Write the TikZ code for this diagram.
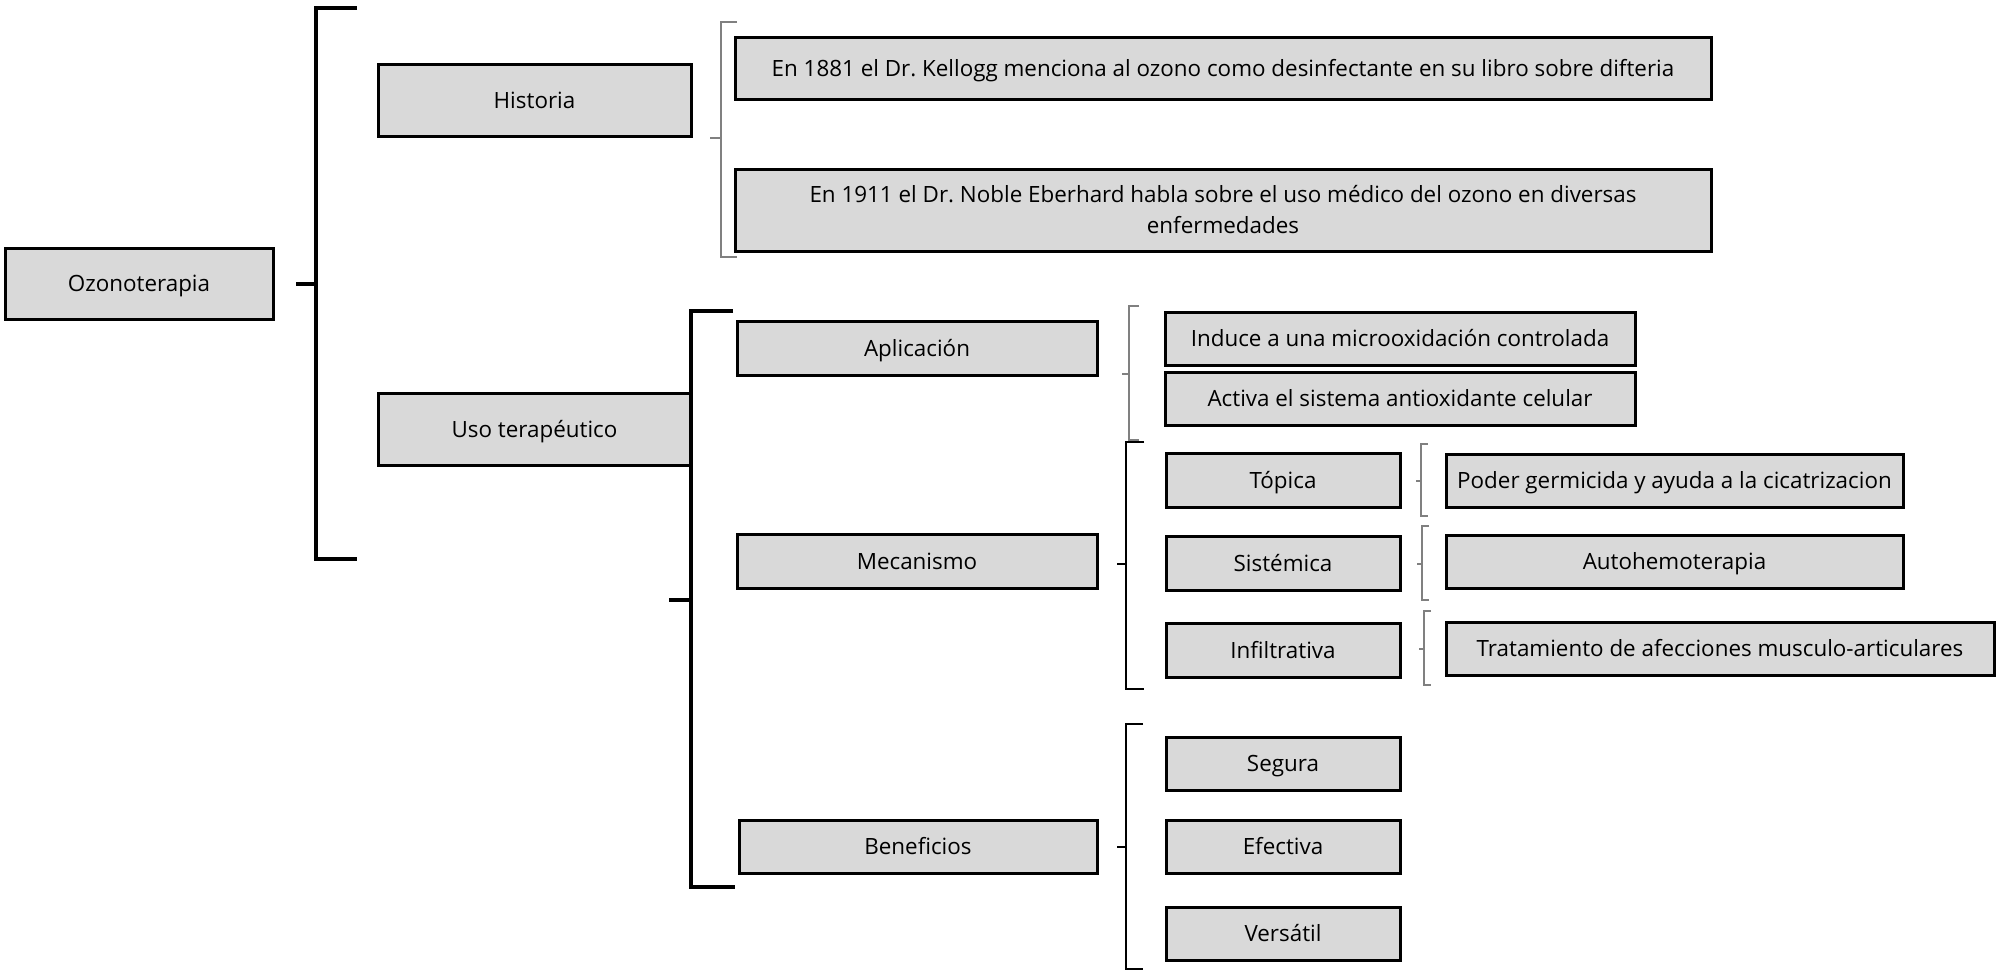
\documentclass[tikz,border=0pt]{standalone}
\usepackage{fontspec}
\setmainfont{Open Sans}
\frenchspacing
\definecolor{boxfill}{HTML}{D9D9D9}
\definecolor{thingray}{HTML}{808080}
\tikzset{
  box/.style={draw=black, line width=3pt, fill=boxfill, inner sep=0pt, align=center,
    font=\fontsize{22.4}{31}\selectfont, text height=18pt, text depth=2pt},
  bigbr/.style={draw=black, line width=3.5pt},
  midbr/.style={draw=black, line width=1.6pt},
  thinbr/.style={draw=thingray, line width=1.2pt},
}
\newcommand{\bx}[6]{\node[box, minimum width=#4-#2, minimum height=#5-#3] (#1) at ({(#2+#4)/2},{(#3+#5)/2}) {#6};}
\begin{document}
\begin{tikzpicture}[x=1pt,y=-1pt]
\useasboundingbox (0,0) rectangle (2007,972);
% boxes
\bx{oz}{5}{248}{273}{319}{Ozonoterapia}
\bx{hist}{378}{64}{691}{136}{Historia}
\bx{uso}{378}{393}{691}{465}{Uso terapéutico}
\bx{h1}{735}{37}{1711}{99}{En 1881 el Dr. Kellogg menciona al ozono como desinfectante en su libro sobre difteria}
\node[box, minimum width=976, minimum height=82, text height=, text depth=] (h2) at (1223,210) {En 1911 el Dr. Noble Eberhard habla sobre el uso médico del ozono en diversas\\enfermedades};
\bx{apl}{737}{321}{1097}{375}{Aplicación}
\bx{mec}{737}{534}{1097}{588}{Mecanismo}
\bx{ben}{739}{820}{1097}{873}{Beneficios}
\bx{ind}{1165}{312}{1635}{365}{Induce a una microoxidación controlada}
\bx{act}{1165}{372}{1635}{425}{Activa el sistema antioxidante celular}
\bx{top}{1166}{453}{1400}{507}{Tópica}
\bx{sis}{1166}{536}{1400}{590}{Sistémica}
\bx{inf}{1166}{623}{1400}{677}{Infiltrativa}
\bx{pod}{1446}{454}{1903}{507}{Poder germicida y ayuda a la cicatrizacion}
\bx{aut}{1446}{535}{1903}{588}{Autohemoterapia}
\bx{tra}{1446}{622}{1994}{675}{Tratamiento de afecciones musculo-articulares}
\bx{seg}{1166}{737}{1400}{790}{Segura}
\bx{efe}{1166}{820}{1400}{873}{Efectiva}
\bx{ver}{1166}{907}{1400}{960}{Versátil}
% brackets
\draw[bigbr] (357,8) -- (316,8) -- (316,559) -- (357,559);
\draw[bigbr] (296,284) -- (316,284);
\draw[thinbr] (737,22) -- (721,22) -- (721,257) -- (737,257);
\draw[thinbr] (710,138) -- (721,138);
\draw[bigbr] (733,311) -- (691,311) -- (691,887) -- (735,887);
\draw[bigbr] (669,600) -- (691,600);
\draw[thinbr] (1139,306) -- (1129,306) -- (1129,440) -- (1139,440);
\draw[thinbr] (1122,374) -- (1129,374);
\draw[midbr] (1144,442) -- (1126,442) -- (1126,689) -- (1144,689);
\draw[midbr] (1117,564) -- (1126,564);
\draw[thinbr] (1428,444) -- (1421,444) -- (1421,516) -- (1428,516);
\draw[thinbr] (1416,481) -- (1421,481);
\draw[thinbr] (1429,526) -- (1422,526) -- (1422,600) -- (1429,600);
\draw[thinbr] (1417,564) -- (1422,564);
\draw[thinbr] (1431,611) -- (1424,611) -- (1424,685) -- (1431,685);
\draw[thinbr] (1419,649) -- (1424,649);
\draw[midbr] (1143,724) -- (1126,724) -- (1126,969) -- (1143,969);
\draw[midbr] (1117,847) -- (1126,847);
\end{tikzpicture}
\end{document}
